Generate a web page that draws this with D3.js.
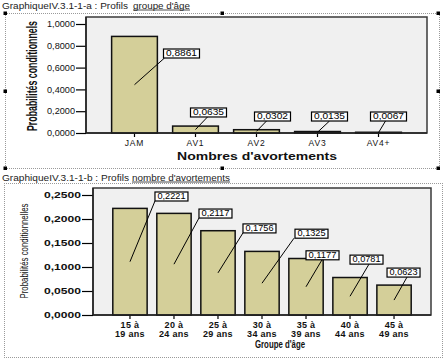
<!DOCTYPE html>
<html><head><meta charset="utf-8">
<script src="https://cdn.jsdelivr.net/npm/d3@7"></script>
<style>body{margin:0;background:#fff}svg{display:block}</style>
</head><body>
<script>
// ---- data ----
const catsA = ["JAM", "AV1", "AV2", "AV3", "AV4+"];
const valsA = [0.8861, 0.0635, 0.0302, 0.0135, 0.0067];
const ticksA = [0, 0.2, 0.4, 0.6, 0.8, 1.0];

const catsB = [["15 à", "19 ans"], ["20 à", "24 ans"], ["25 à", "29 ans"], ["30 à", "34 ans"], ["35 à", "39 ans"], ["40 à", "44 ans"], ["45 à", "49 ans"]];
const valsB = [0.2221, 0.2117, 0.1756, 0.1325, 0.1177, 0.0781, 0.0623];
const ticksB = [0, 0.05, 0.10, 0.15, 0.20, 0.25];

// label placement (value level of box bottom, pixel offsets from bar centre)
const labLevelA = [0.688, 0.147, 0.110, 0.110, 0.110];
const labBoxDxA = [29, -5, -2, -6, -8];
const labEndDxA = [30, 12, 10, 12, 7];
const labLevelB = [0.2375, 0.202, 0.171, 0.160, 0.115, 0.106, 0.079];
const labBoxDxB = [25, 25, 25, 33, 0, 0, -7];
const labEndDxB = [25, 25, 25, 32, 16, 19, 13];

const fmt = v => d3.format(".4f")(v).replace(".", ",");
const FONT = "'Liberation Sans', Arial, sans-serif";
const BAR = "#d4cf99";

const svg = d3.select("body").append("svg").attr("width", 445).attr("height", 359)
  .style("font-family", FONT);

// ---------- outer frames & titles ----------
function dotted(x1, y1, x2, y2) {
  svg.append("line").attr("x1", x1).attr("y1", y1).attr("x2", x2).attr("y2", y2)
    .attr("stroke", "#9a9a9a").attr("stroke-width", 1).attr("stroke-dasharray", "1,1");
}
dotted(5, 13.5, 439, 13.5); dotted(5.5, 13, 5.5, 169); dotted(439.5, 13, 439.5, 169); dotted(5, 168.5, 439, 168.5);
dotted(4, 183.5, 442, 183.5); dotted(4.5, 183, 4.5, 358); dotted(442.5, 183, 442.5, 358); dotted(4, 357.5, 442, 357.5);
[[5, 13], [222, 13], [438, 13], [5, 91], [438, 91], [5, 168], [222, 168], [438, 168]].forEach(([x, y]) => {
  svg.append("rect").attr("x", x - 1.5).attr("y", y - 1.5).attr("width", 3.5).attr("height", 3.5).attr("fill", "#000");
});

function title(y, t1, t2, w1, x2, w2) {
  svg.append("text").attr("x", 2).attr("y", y).attr("font-size", 9.5).attr("fill", "#222")
    .attr("textLength", w1).attr("lengthAdjust", "spacingAndGlyphs").text(t1);
  svg.append("text").attr("x", x2).attr("y", y).attr("font-size", 9.5).attr("fill", "#222")
    .attr("textLength", w2).attr("lengthAdjust", "spacingAndGlyphs").text(t2);
  svg.append("line").attr("x1", x2).attr("x2", x2 + w2).attr("y1", y + 1.5).attr("y2", y + 1.5)
    .attr("stroke", "#222").attr("stroke-width", 0.8);
}
title(8.5, "GraphiqueIV.3.1-1-a : Profils", "groupe d'âge", 126, 133, 57);
title(180.5, "GraphiqueIV.3.1-1-b : Profils", "nombre d'avortements", 127, 132, 98);

// ---------- generic chart ----------
function chart(o) {
  const g = svg.append("g");
  g.append("rect").attr("x", o.x0).attr("y", o.top).attr("width", o.x1 - o.x0).attr("height", o.y0 - o.top)
    .attr("fill", "#f0f0f0").attr("stroke", "#3a3a3a").attr("stroke-width", 1.5);

  const x = d3.scaleBand().domain(d3.range(o.vals.length)).range([o.x0, o.x1])
    .paddingInner(o.pi).paddingOuter(o.po);
  const y = d3.scaleLinear().domain([0, o.ymax]).range([o.y0, o.ymaxPx]);

  const ya = g.append("g").attr("transform", `translate(${o.x0},0)`)
    .call(d3.axisLeft(y).tickValues(o.ticks).tickFormat(fmt).tickSize(o.tickLen).tickSizeOuter(0));
  ya.select(".domain").remove();
  ya.selectAll(".tick line").attr("stroke", "#000").attr("stroke-width", 1.2);
  ya.selectAll(".tick text").attr("font-family", FONT).attr("font-size", o.tfs).attr("fill", "#111")
    .attr("font-weight", o.tickBold ? "bold" : "normal").attr("x", -o.tickLen - 1)
    .attr("textLength", o.tickW).attr("lengthAdjust", "spacingAndGlyphs");

  const xa = g.append("g").attr("transform", `translate(0,${o.y0})`)
    .call(d3.axisBottom(x).tickSize(o.xTickLen).tickSizeOuter(0).tickFormat(""));
  xa.select(".domain").remove();
  xa.selectAll(".tick line").attr("stroke", "#000").attr("stroke-width", 1.2);

  g.selectAll(".bar").data(o.vals).join("rect")
    .attr("x", (d, i) => x(i)).attr("width", x.bandwidth())
    .attr("y", d => y(d)).attr("height", d => y(0) - y(d))
    .attr("fill", BAR).attr("stroke", "#111").attr("stroke-width", 1.5);

  g.append("line").attr("x1", o.x0).attr("x2", o.x0).attr("y1", o.top).attr("y2", o.y0).attr("stroke", "#222").attr("stroke-width", 1.5);
  g.append("line").attr("x1", o.x0).attr("x2", o.x1).attr("y1", o.y0).attr("y2", o.y0).attr("stroke", "#222").attr("stroke-width", 1.5);

  o.cats.forEach((c, i) => {
    const lines = Array.isArray(c) ? c : [c];
    const cx = x(i) + x.bandwidth() / 2;
    lines.forEach((t, k) => {
      g.append("text").attr("x", cx).attr("y", o.xlabY + k * o.xlabDy).attr("text-anchor", "middle")
        .attr("font-size", o.xfs).attr("font-weight", o.xBold ? "bold" : "normal").attr("fill", "#111")
        .style("letter-spacing", o.xls + "px").text(t);
    });
  });

  o.vals.forEach((v, i) => {
    const cx = x(i) + x.bandwidth() / 2;
    const sy = (y(v) + y(0)) / 2;
    const by = y(o.labLevel[i]);
    const bx = cx + o.labBoxDx[i];
    g.append("line").attr("x1", cx).attr("y1", sy).attr("x2", cx + o.labEndDx[i]).attr("y2", by)
      .attr("stroke", "#000").attr("stroke-width", 1);
    g.append("rect").attr("x", bx).attr("y", by - o.boxH).attr("width", o.boxW).attr("height", o.boxH)
      .attr("fill", "#fff").attr("stroke", "#000").attr("stroke-width", 1.2);
    g.append("text").attr("x", bx + o.boxW / 2).attr("y", by - 2).attr("text-anchor", "middle")
      .attr("font-size", 8.5).attr("fill", "#000")
      .attr("textLength", o.boxW - 5).attr("lengthAdjust", "spacingAndGlyphs").text(fmt(v));
  });

  g.append("text").attr("transform", `translate(${o.ytX},${o.ytY}) rotate(-90)`).attr("text-anchor", "middle")
    .attr("font-family", "'Liberation Sans Narrow', 'Liberation Sans', Arial, sans-serif")
    .attr("font-size", o.ytfs).attr("font-weight", o.ytBold ? "bold" : "normal").attr("fill", "#111")
    .attr("textLength", o.ytW).attr("lengthAdjust", "spacingAndGlyphs").text("Probabilités " + o.ytWord);
  g.append("text").attr("x", o.xtX).attr("y", o.xtY).attr("text-anchor", "middle")
    .attr("font-size", o.xtfs).attr("font-weight", "bold").attr("fill", "#111")
    .attr("textLength", o.xtW).attr("lengthAdjust", "spacingAndGlyphs").text(o.xTitle);
}

chart({
  vals: valsA, cats: catsA, ticks: ticksA,
  x0: 86, x1: 427, top: 17, y0: 133, ymax: 1.0, ymaxPx: 24,
  pi: 0.25, po: 0.42, tickLen: 10, tfs: 8.5, tickBold: false, tickW: 28,
  xTickLen: 4, xlabY: 146, xlabDy: 0, xfs: 8.5, xBold: false, xls: 0.8,
  labLevel: labLevelA, labBoxDx: labBoxDxA, labEndDx: labEndDxA, boxW: 36, boxH: 9,
  ytX: 37, ytY: 76, ytfs: 14, ytBold: true, ytW: 110, ytWord: "conditionnels",
  xtX: 257, xtY: 160, xtfs: 11, xtW: 160, xTitle: "Nombres d'avortements"
});

chart({
  vals: valsB, cats: catsB, ticks: ticksB,
  x0: 93, x1: 431, top: 188, y0: 315, ymax: 0.25, ymaxPx: 195,
  pi: 0.22, po: 0.45, tickLen: 11, tfs: 9, tickBold: true, tickW: 37,
  xTickLen: 4, xlabY: 328, xlabDy: 9, xfs: 9, xBold: true, xls: 0.3,
  labLevel: labLevelB, labBoxDx: labBoxDxB, labEndDx: labEndDxB, boxW: 33, boxH: 9,
  ytX: 28, ytY: 251, ytfs: 11, ytBold: false, ytW: 95, ytWord: "conditionnelles",
  xtX: 280, xtY: 348, xtfs: 10, xtW: 50, xTitle: "Groupe d'âge"
});
</script>
</body></html>
